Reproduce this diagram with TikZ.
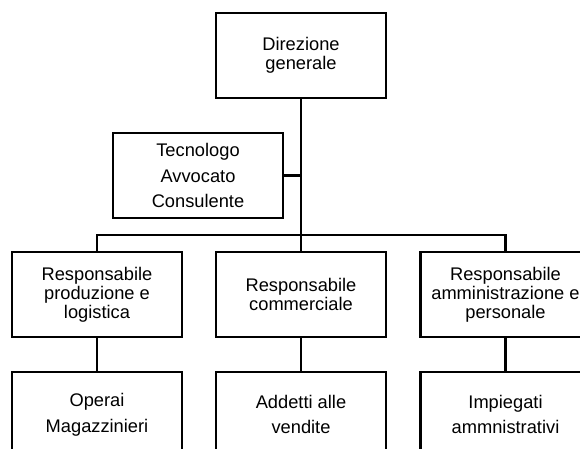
\documentclass[tikz,border=0pt]{standalone}
\usepackage{fontspec}
\setmainfont{Liberation Sans}
\begin{document}
\begin{tikzpicture}[line width=2.1pt,
        box/.style = {rectangle, draw,
            minimum width = 4.25cm,
            minimum height = 2.125cm,
            inner sep = 1pt,
            align = center,
            fill = white},
        tight/.style = {box, font=\fontsize{13}{13.6}\selectfont},
        loose/.style = {box, font=\fontsize{13}{18.2}\selectfont}]

        \useasboundingbox (0,0) rectangle (14.5,-11.2);

        % Direzione
        \node[tight] (dir) at (7.525,-1.3875) {Direzione\\generale};

        % Staff
        \node[loose] (staff) at (4.95,-4.3875) {Tecnologo\\Avvocato\\Consulente};

        % Responsabili
        \node[tight] (prod) at (2.425,-7.3625) {Responsabile\\produzione e\\logistica};
        \node[tight] (comm) at (7.525,-7.3625) {Responsabile\\commerciale};
        \node[tight] (amm) at (12.6375,-7.3625) {Responsabile\\amministrazione e\\personale};

        % Addetti
        \node[loose] (oper) at (2.425,-10.3625) {Operai\\Magazzinieri};
        \node[loose] (vend) at (7.525,-10.3625) {Addetti alle\\vendite};
        \node[loose] (imp) at (12.6375,-10.3625) {Impiegati\\ammnistrativi};

        % Linee
        \coordinate (bus) at (7.525,-5.875);
        \draw (dir.south) -- (bus);
        \draw (staff.east) -- (staff.east -| dir.south);
        \draw (prod.north) |- (bus) -| (amm.north);
        \draw (bus) -- (comm.north);
        \draw (prod) -- (oper);
        \draw (comm) -- (vend);
        \draw (amm) -- (imp);

    \end{tikzpicture}
\end{document}
